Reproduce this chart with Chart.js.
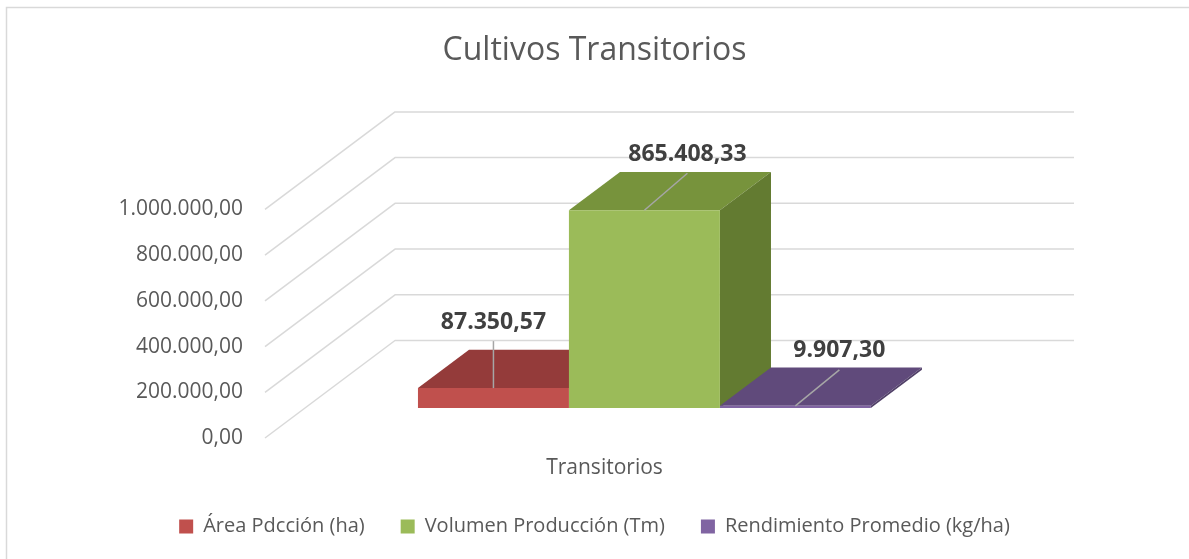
<!DOCTYPE html>
<html lang="es">
<head>
<meta charset="UTF-8">
<title>Cultivos Transitorios</title>
<script src="https://cdn.jsdelivr.net/npm/chart.js@4.4.0/dist/chart.umd.min.js"></script>
<style>
  body { margin: 0; background: #fff; }
</style>
</head>
<body>
<canvas id="myChart" width="1189" height="559"></canvas>
<script>
// data
const categories = ['Transitorios'];
const seriesNames = ['Área Pdcción (ha)', 'Volumen Producción (Tm)', 'Rendimiento Promedio (kg/ha)'];
const seriesValues = [87350.57, 865408.33, 9907.30];
const yTicks = [0, 200000, 400000, 600000, 800000, 1000000];

// colours of the three faces of each column
const frontColors = ['#C0504D', '#9BBB59', '#8064A2'];
const topColors = ['#943B3A', '#77933C', '#604A7B'];
const sideColors = ['#7C3230', '#637B31', '#514068'];

const FONT = '"Open Sans", "Noto Sans", sans-serif';
const GREY = '#595959';

// 3D box: offset of the back wall, and where the columns sit in the depth
const depth = { dx: 130, dy: -97.5, front: 0.307, back: 0.70 };
// label position relative to the top front centre of each column
const labelOffsets = [[0, -66], [43, -56], [44, -55]];

function fmt(v) {
  const parts = v.toFixed(2).split('.');
  return parts[0].replace(/\B(?=(\d{3})+(?!\d))/g, '.') + ',' + parts[1];
}

function poly(ctx, pts, color) {
  ctx.beginPath();
  ctx.moveTo(pts[0][0], pts[0][1]);
  for (let i = 1; i < pts.length; i++) ctx.lineTo(pts[i][0], pts[i][1]);
  ctx.closePath();
  ctx.fillStyle = color;
  ctx.fill();
}

function barBox(chart, i) {
  const bar = chart.getDatasetMeta(i).data[0];
  const p = bar.getProps(['x', 'y', 'base', 'width'], true);
  const ox = depth.dx * depth.front, oy = depth.dy * depth.front;
  return {
    l: p.x - p.width / 2 + ox, r: p.x + p.width / 2 + ox,
    t: p.y + oy, b: p.base + oy, cx: p.x + ox,
    bx: depth.dx * (depth.back - depth.front), by: depth.dy * (depth.back - depth.front)
  };
}

const threeD = {
  id: 'threeD',
  beforeDraw(chart) {
    const ctx = chart.ctx;
    ctx.save();
    ctx.fillStyle = '#fff';
    ctx.fillRect(0, 0, chart.width, chart.height);
    ctx.strokeStyle = '#d9d9d9';
    ctx.lineWidth = 1.5;
    ctx.beginPath();
    ctx.moveTo(6.5, chart.height);
    ctx.lineTo(6.5, 7.5);
    ctx.lineTo(chart.width, 7.5);
    ctx.stroke();
    ctx.restore();
  },
  beforeDatasetsDraw(chart) {
    const { ctx, chartArea: a, scales: { y } } = chart;
    ctx.save();
    ctx.strokeStyle = '#d9d9d9';
    ctx.lineWidth = 1.5;
    ctx.lineJoin = 'round';
    yTicks.forEach(v => {
      const py = y.getPixelForValue(v);
      ctx.beginPath();
      ctx.moveTo(a.left, py);
      ctx.lineTo(a.left + depth.dx, py + depth.dy);
      ctx.lineTo(a.right + depth.dx, py + depth.dy);
      ctx.stroke();
    });
    ctx.restore();

    // top and side faces first, the front faces drawn by Chart.js go over them
    chart.data.datasets.forEach((ds, i) => {
      const k = barBox(chart, i);
      poly(ctx, [[k.l, k.t], [k.l + k.bx, k.t + k.by], [k.r + k.bx, k.t + k.by], [k.r, k.t]], topColors[i]);
      poly(ctx, [[k.r, k.t], [k.r + k.bx, k.t + k.by], [k.r + k.bx, k.b + k.by], [k.r, k.b]], sideColors[i]);
    });

    ctx.save();
    ctx.translate(depth.dx * depth.front, depth.dy * depth.front);
  },
  afterDatasetsDraw(chart) {
    const ctx = chart.ctx;
    ctx.restore();
    chart.data.datasets.forEach((ds, i) => {
      const k = barBox(chart, i);
      const lx = k.cx + labelOffsets[i][0];
      const ly = k.t + labelOffsets[i][1];
      ctx.save();
      ctx.strokeStyle = '#a6a6a6';
      ctx.lineWidth = 1.5;
      ctx.beginPath();
      ctx.moveTo(k.cx, k.t);
      ctx.lineTo(lx, ly + 19);
      ctx.stroke();
      ctx.fillStyle = '#404040';
      ctx.font = 'bold 23px ' + FONT;
      ctx.textAlign = 'center';
      ctx.textBaseline = 'middle';
      ctx.fillText(fmt(ds.data[0]), lx, ly);
      ctx.restore();
    });
  }
};

const ctx = document.getElementById('myChart').getContext('2d');
const myChart = new Chart(ctx, {
  type: 'bar',
  data: {
    labels: categories,
    datasets: seriesNames.map((name, i) => ({
      label: name,
      data: [seriesValues[i]],
      backgroundColor: frontColors[i],
      borderWidth: 0,
      categoryPercentage: 0.667,
      barPercentage: 1
    }))
  },
  options: {
    responsive: false,
    animation: false,
    devicePixelRatio: 1,
    events: [],
    layout: { padding: { left: 0, right: 0, top: 0, bottom: 12.5 } },
    scales: {
      x: {
        grid: { display: false, drawTicks: false },
        border: { display: false },
        ticks: { color: GREY, padding: 17, font: { family: FONT, size: 21, lineHeight: 1.2 } },
        afterFit(s) { s.height = 42.5; }
      },
      y: {
        min: 0,
        max: 1000000,
        grid: { display: false, drawTicks: false },
        border: { display: false },
        ticks: {
          stepSize: 200000,
          padding: 22,
          color: GREY,
          font: { family: FONT, size: 21 },
          callback: v => fmt(v)
        },
        afterFit(s) { s.width = 265; }
      },
      y2: {
        position: 'right',
        grid: { display: false },
        border: { display: false },
        ticks: { display: false },
        afterFit(s) { s.width = 245; }
      }
    },
    plugins: {
      title: {
        display: true,
        text: 'Cultivos Transitorios',
        color: GREY,
        font: { family: FONT, size: 32, weight: 'normal', lineHeight: 1.2 },
        padding: { top: 32, bottom: 139 }
      },
      legend: {
        position: 'bottom',
        labels: {
          boxWidth: 14,
          boxHeight: 14,
          padding: 36,
          color: GREY,
          font: { family: FONT, size: 20 }
        }
      },
      tooltip: { enabled: false }
    }
  },
  plugins: [threeD]
});
</script>
</body>
</html>
